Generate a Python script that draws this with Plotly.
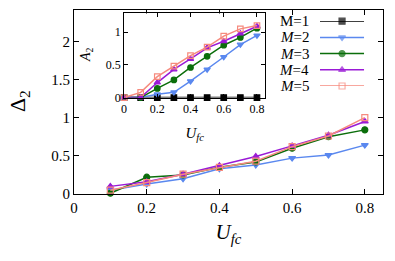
import plotly.graph_objects as go

# ---------------- data ----------------
u_main = [0.1, 0.2, 0.3, 0.4, 0.5, 0.6, 0.7, 0.8]
d2_m2 = [0.05, 0.13, 0.20, 0.33, 0.38, 0.47, 0.51, 0.64]
d2_m3 = [0.01, 0.22, 0.25, 0.35, 0.42, 0.60, 0.75, 0.84]
d2_m4 = [0.10, 0.16, 0.26, 0.37, 0.49, 0.63, 0.77, 0.95]
d2_m5 = [0.05, 0.15, 0.26, 0.35, 0.43, 0.62, 0.76, 1.00]

u_inset = [0.0, 0.1, 0.2, 0.3, 0.4, 0.5, 0.6, 0.7, 0.8]
a2_m1 = [0, 0, 0, 0, 0, 0, 0, 0, 0]
a2_m2 = [0.0, 0.0, 0.05, 0.08, 0.25, 0.43, 0.62, 0.81, 0.95]
a2_m3 = [0.0, 0.0, 0.14, 0.27, 0.46, 0.63, 0.80, 0.92, 1.06]
a2_m4 = [0.0, 0.0, 0.23, 0.43, 0.59, 0.76, 0.86, 0.98, 1.09]
a2_m5 = [0.0, 0.08, 0.32, 0.48, 0.64, 0.77, 0.94, 1.05, 1.10]

legend_labels = ["M=1", "<i>M</i>=2", "<i>M</i>=3", "<i>M</i>=4", "<i>M</i>=5"]
x_ticks = [0, 0.2, 0.4, 0.6, 0.8]
y_ticks_main = [0, 0.5, 1, 1.5, 2]
y_ticks_inset = [0, 0.5, 1]

# ---------------- styles ----------------
colors = ["#000000", "#5a88ef", "#0b6e0b", "#9a1ad6", "#f68a7e"]
symbols = ["square", "triangle-down", "circle", "triangle-up", "square-open"]
FONT = "Liberation Serif"

fig = go.Figure()

main_series = [None, d2_m2, d2_m3, d2_m4, d2_m5]
inset_series = [a2_m1, a2_m2, a2_m3, a2_m4, a2_m5]

for i in range(5):
    if main_series[i] is not None:
        fig.add_trace(go.Scatter(
            x=u_main, y=main_series[i], mode="lines+markers",
            line=dict(color=colors[i], width=1.5),
            marker=dict(symbol=symbols[i], size=6, color=colors[i],
                        line=dict(color=colors[i], width=1.2)),
            xaxis="x", yaxis="y", showlegend=False, cliponaxis=False))

for i in range(5):
    fig.add_trace(go.Scatter(
        x=u_inset, y=inset_series[i], mode="lines+markers",
        line=dict(color=colors[i], width=1.5),
        marker=dict(symbol=symbols[i], size=5.5, color=colors[i],
                    line=dict(color=colors[i], width=1.2)),
        xaxis="x2", yaxis="y2", showlegend=False, cliponaxis=False))

# custom legend (text left, sample right)
for i in range(5):
    fig.add_trace(go.Scatter(
        x=[0, 0.5, 1], y=[i, i, i], mode="lines+markers",
        line=dict(color=colors[i], width=1.5),
        marker=dict(symbol=symbols[i], size=[0, 6, 0], color=colors[i],
                    line=dict(color=colors[i], width=1.2)),
        xaxis="x3", yaxis="y3", showlegend=False, cliponaxis=False,
        hoverinfo="skip"))
    fig.add_annotation(text=legend_labels[i], xref="paper", yref="y3",
                       x=0.768, y=i, xanchor="right", yanchor="middle",
                       showarrow=False, font=dict(family=FONT, size=15, color="black"))

# y-axis titles as rotated annotations
fig.add_annotation(text="Δ<sub>2</sub>", xref="paper", yref="paper", x=-0.178, y=0.505,
                   xanchor="center", yanchor="middle", textangle=-90, showarrow=False,
                   font=dict(family=FONT, size=22, color="black"))
fig.add_annotation(text="<i>A</i><sub>2</sub>", xref="paper", yref="paper", x=0.040, y=0.757,
                   xanchor="center", yanchor="middle", textangle=-90, showarrow=False,
                   font=dict(family=FONT, size=14, color="black"))

axis_common = dict(showline=True, linecolor="black", linewidth=1, mirror="ticks",
                   ticks="inside", tickcolor="black", showgrid=False, zeroline=False,
                   automargin=False)

fig.update_layout(
    width=395, height=261,
    margin=dict(l=74, r=12, t=9.5, b=67),
    paper_bgcolor="white", plot_bgcolor="white",
    font=dict(family=FONT, color="black"),
    xaxis=dict(domain=[0, 1], range=[0, 0.85], tickvals=x_ticks,
               ticktext=[str(v) for v in x_ticks], ticklen=5,
               tickfont=dict(size=15, family=FONT),
               title=dict(text="<i>U</i><sub><i>fc</i></sub>",
                          font=dict(size=21, family=FONT), standoff=9),
               **axis_common),
    yaxis=dict(domain=[0, 1], range=[0, 2.41], tickvals=y_ticks_main,
               ticktext=[str(v) for v in y_ticks_main], ticklen=5,
               tickfont=dict(size=15, family=FONT),
               **axis_common),
    xaxis2=dict(domain=[0.162, 0.619], range=[0, 0.85], anchor="y2",
                tickvals=x_ticks, ticktext=[str(v) for v in x_ticks], ticklen=4,
                tickfont=dict(size=12, family=FONT),
                title=dict(text="<i>U</i><sub><i>fc</i></sub>",
                           font=dict(size=15, family=FONT), standoff=12),
                **axis_common),
    yaxis2=dict(domain=[0.524, 0.981], range=[0, 1.285], anchor="x2",
                tickvals=y_ticks_inset, ticktext=[str(v) for v in y_ticks_inset], ticklen=4,
                tickfont=dict(size=12, family=FONT),
                **axis_common),
    xaxis3=dict(domain=[0.796, 0.939], range=[0, 1], anchor="y3", visible=False,
                fixedrange=True),
    yaxis3=dict(domain=[0.587, 0.939], range=[4, 0], anchor="x3", visible=False,
                fixedrange=True),
)

fig.write_html("out.html", config={"displayModeBar": False},
               post_script="document.body.style.margin='0';document.body.style.overflow='hidden';")
